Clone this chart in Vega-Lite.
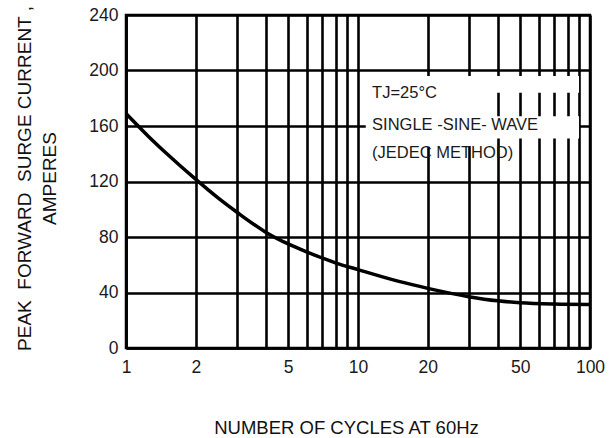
{
  "$schema": "https://vega.github.io/schema/vega-lite/v6.json",
  "width": 464,
  "height": 333,
  "autosize": "none",
  "padding": {"left": 126, "top": 15, "right": 19, "bottom": 90},
  "background": "white",
  "config": {
    "view": {"stroke": "black", "strokeWidth": 2.5},
    "axis": {
      "grid": true,
      "gridColor": "black",
      "gridWidth": 2.6,
      "gridOpacity": 1,
      "ticks": false,
      "domainColor": "black",
      "domainWidth": 2.6,
      "labelFont": "Liberation Sans, Arial",
      "labelFontSize": 17.5,
      "labelColor": "#1a1a1a",
      "titleFont": "Liberation Sans, Arial",
      "titleFontSize": 19,
      "titleFontWeight": "normal",
      "titleColor": "#111"
    }
  },
  "datasets": {
    "curve": [
      {"cycles": 1, "current": 169},
      {"cycles": 1.25, "current": 152.5},
      {"cycles": 1.5, "current": 140},
      {"cycles": 2, "current": 121.5},
      {"cycles": 2.5, "current": 108},
      {"cycles": 3, "current": 98},
      {"cycles": 4, "current": 83.5},
      {"cycles": 5, "current": 75},
      {"cycles": 6, "current": 69.3},
      {"cycles": 7, "current": 64.9},
      {"cycles": 8, "current": 61.4},
      {"cycles": 10, "current": 56.5},
      {"cycles": 15, "current": 48},
      {"cycles": 20, "current": 43},
      {"cycles": 30, "current": 37},
      {"cycles": 40, "current": 34},
      {"cycles": 50, "current": 32.6},
      {"cycles": 70, "current": 31.7},
      {"cycles": 100, "current": 31.4}
    ],
    "boxes": [
      {"x1": 10.8, "x2": 89.7, "y1": 184, "y2": 196},
      {"x1": 10.8, "x2": 22, "y1": 170, "y2": 196},
      {"x1": 17, "x2": 35, "y1": 145, "y2": 196},
      {"x1": 10.8, "x2": 89.7, "y1": 151, "y2": 167}
    ],
    "notes": [
      {"x": 11.5, "y": 184, "text": "TJ=25°C"},
      {"x": 11.5, "y": 161, "text": "SINGLE -SINE- WAVE"},
      {"x": 11.5, "y": 140.5, "text": "(JEDEC METHOD)"}
    ]
  },
  "layer": [
    {
      "data": {"name": "boxes"},
      "mark": {"type": "rect", "color": "white", "strokeWidth": 0},
      "encoding": {
        "x": {"field": "x1", "type": "quantitative",
          "scale": {"type": "log", "domain": [1, 100], "nice": false},
          "axis": {
            "values": [1, 2, 3, 4, 5, 6, 7, 8, 9, 10, 20, 30, 40, 50, 60, 70, 80, 90, 100],
            "labelExpr": "indexof([1, 2, 5, 10, 20, 50, 100], datum.value) >= 0 ? datum.label : ''",
            "labelPadding": 10,
            "labelFlush": false,
            "labelOverlap": false,
            "title": "NUMBER OF CYCLES AT 60Hz",
            "titleX": 220,
            "titleY": 85,
            "titleFontSize": 18.5,
            "titleBaseline": "alphabetic",
            "titleAlign": "center"
          }
        },
        "x2": {"field": "x2"},
        "y": {"field": "y1", "type": "quantitative",
          "scale": {"domain": [0, 240], "nice": false},
          "axis": {
            "values": [0, 40, 80, 120, 160, 200, 240],
            "labelPadding": 8,
            "title": ["PEAK\u00a0 FORWARD\u00a0 SURGE CURRENT ,", "AMPERES"],
            "titleX": -96,
            "titleY": 163,
            "titleAngle": -90,
            "titleAlign": "center",
            "titleBaseline": "alphabetic",
            "titleLineHeight": 25
          }
        },
        "y2": {"field": "y2"}
      }
    },
    {
      "data": {"name": "notes"},
      "mark": {"type": "text", "align": "left", "baseline": "middle", "font": "Liberation Sans, Arial", "fontSize": 16.5, "color": "#1a1a1a"},
      "encoding": {
        "x": {"field": "x", "type": "quantitative"},
        "y": {"field": "y", "type": "quantitative"},
        "text": {"field": "text"}
      }
    },
    {
      "data": {"name": "curve"},
      "mark": {"type": "line", "color": "black", "strokeWidth": 3.5, "interpolate": "monotone"},
      "encoding": {
        "x": {"field": "cycles", "type": "quantitative"},
        "y": {"field": "current", "type": "quantitative"}
      }
    }
  ]
}
